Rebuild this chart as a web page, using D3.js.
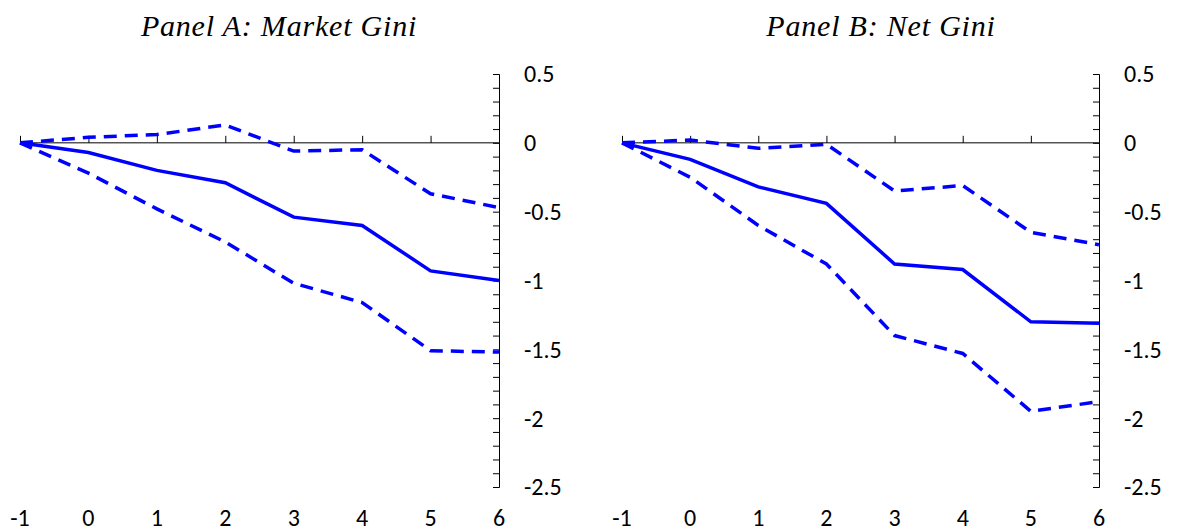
<!DOCTYPE html>
<html>
<head>
<meta charset="utf-8">
<script src="https://cdn.jsdelivr.net/npm/d3@7"></script>
<style>
  body { margin: 0; background: #fff; }
  svg text { font-family: Carlito, "Open Sans", "Noto Sans", sans-serif; }
</style>
</head>
<body>
<div id="root"></div>
<script>
// horizon (years relative to event)
var horizons = [-1, 0, 1, 2, 3, 4, 5, 6];
var yTicks = [0.5, 0, -0.5, -1, -1.5, -2, -2.5];

// Panel A: Market Gini
var marketEst   = [0, -0.07, -0.20, -0.29, -0.54, -0.60, -0.93, -1.00];
var marketUpper = [0, 0.04, 0.06, 0.13, -0.06, -0.05, -0.37, -0.47];
var marketLower = [0, -0.22, -0.48, -0.72, -1.02, -1.16, -1.51, -1.52];

// Panel B: Net Gini
var netEst   = [0, -0.12, -0.32, -0.44, -0.88, -0.92, -1.30, -1.31];
var netUpper = [0, 0.02, -0.04, -0.01, -0.35, -0.31, -0.65, -0.74];
var netLower = [0, -0.25, -0.60, -0.88, -1.40, -1.53, -1.95, -1.88];

var W = 1177, H = 532;
var svg = d3.select('#root').append('svg')
  .attr('width', W)
  .attr('height', H);

var panels = [
  { title: 'Panel A: Market Gini', x0: 20, x1: 499, cx: 279, est: marketEst, up: marketUpper, lo: marketLower },
  { title: 'Panel B: Net Gini', x0: 622, x1: 1099, cx: 881, est: netEst, up: netUpper, lo: netLower }
];

var y = d3.scaleLinear().domain([-2.5, 0.5]).range([487, 74]);
var minorTicks = d3.range(-25, 6).map(d => d / 10);

panels.forEach(p => {
  var x = d3.scaleLinear().domain([-1, 6]).range([p.x0, p.x1]);
  var g = svg.append('g');

  g.append('text')
    .attr('x', p.cx)
    .attr('y', 36)
    .attr('text-anchor', 'middle')
    .style('font-family', '"Liberation Serif", "Times New Roman", serif')
    .style('font-style', 'italic')
    .style('font-size', '30px')
    .style('letter-spacing', '0.8px')
    .text(p.title);

  // x axis on the zero line, ticks pointing up
  var xAxis = g.append('g')
    .attr('transform', 'translate(0,' + y(0) + ')')
    .call(d3.axisTop(x).tickValues(horizons).tickSize(7).tickFormat(''));
  xAxis.select('.domain').attr('d', 'M' + p.x0 + ',0H' + p.x1).attr('stroke', '#000');
  xAxis.selectAll('line').attr('stroke', '#000');

  // y axis on the right, all ticks to the left
  var yAxis = g.append('g')
    .attr('transform', 'translate(' + p.x1 + ',0)')
    .call(d3.axisLeft(y).tickValues(minorTicks).tickSize(6).tickSizeOuter(6).tickFormat(''));
  yAxis.selectAll('line').attr('stroke', '#000');
  yAxis.select('.domain').attr('stroke', '#000');

  g.selectAll('.ylab')
    .data(yTicks)
    .enter().append('text')
      .attr('class', 'ylab')
      .attr('x', p.x1 + 25)
      .attr('y', d => y(d))
      .attr('dy', '0.35em')
      .style('font-size', '24px')
      .text(d => d);

  g.selectAll('.xlab')
    .data(horizons)
    .enter().append('text')
      .attr('class', 'xlab')
      .attr('x', d => x(d))
      .attr('y', 526)
      .attr('text-anchor', 'middle')
      .style('font-size', '24px')
      .text(d => d);

  var line = d3.line()
    .x((d, i) => x(horizons[i]))
    .y(d => y(d));

  [p.up, p.lo].forEach(s => {
    g.append('path')
      .datum(s)
      .attr('d', line)
      .attr('fill', 'none')
      .attr('stroke', '#0000ff')
      .attr('stroke-width', 3.5)
      .attr('stroke-dasharray', '13,8');
  });

  g.append('path')
    .datum(p.est)
    .attr('d', line)
    .attr('fill', 'none')
    .attr('stroke', '#0000ff')
    .attr('stroke-width', 3.5);
});
</script>
</body>
</html>
